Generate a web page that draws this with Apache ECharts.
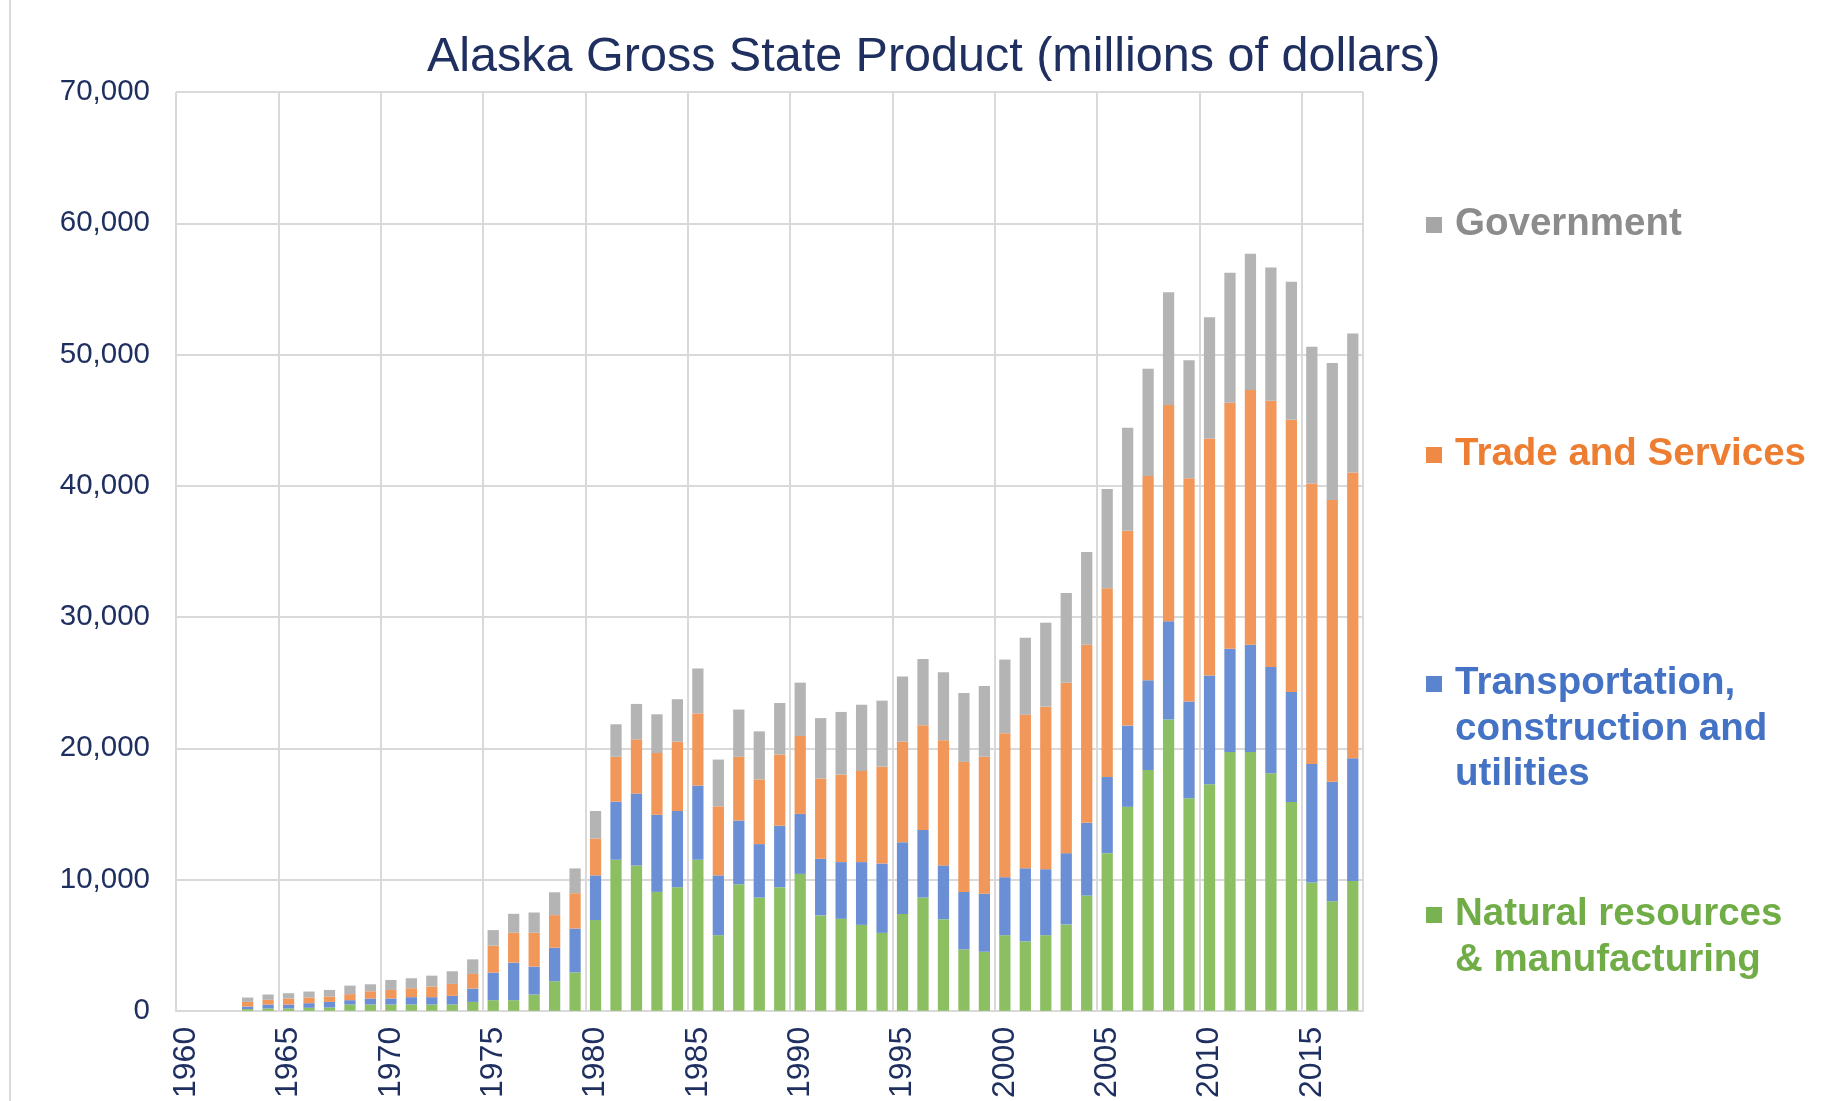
<!DOCTYPE html>
<html>
<head>
<meta charset="utf-8">
<title>Alaska Gross State Product</title>
<script src="https://cdn.jsdelivr.net/npm/echarts@6/dist/echarts.min.js"></script>
<style>
  html, body { margin: 0; padding: 0; background: #ffffff; }
  #chart { width: 1845px; height: 1101px; }
</style>
</head>
<body>
<div id="chart"></div>
<script>
// Years on the category axis (first three years have no data)
const years = [];
for (let y = 1960; y <= 2017; y++) years.push(String(y));

// Millions of dollars by sector, 1960-2017
const naturalResources = [null, null, null,
  130, 180, 180, 230, 250, 480, 480, 480, 480, 480, 480, 680, 810, 810, 1240, 2250, 2930,
  6910, 11510, 11080, 9060, 9420, 11510, 5760, 9640, 8630, 9420,
  10430, 7270, 7010, 6550, 5940, 7370, 8630, 6980, 4680, 4500,
  5760, 5290, 5760, 6580, 8780, 12010, 15540, 18350, 22190, 16190,
  17270, 19710, 19710, 18090, 15900, 9780, 8350, 9890];

const transportation = [null, null, null,
  200, 300, 300, 350, 430, 330, 460, 460, 560, 560, 660, 1020, 2100, 2860, 2130, 2560, 3340,
  3410, 4430, 5470, 5870, 5800, 5650, 4560, 4860, 4070, 4680,
  4570, 4310, 4320, 4780, 5280, 5470, 5150, 4100, 4380, 4420,
  4420, 5570, 5030, 5430, 5540, 5800, 6190, 6830, 7490, 7370,
  8270, 7880, 8170, 8100, 8380, 9030, 9100, 9350];

const tradeServices = [null, null, null,
  350, 360, 460, 430, 410, 460, 550, 650, 680, 810, 910, 1110, 2050, 2280, 2580, 2480, 2690,
  2810, 3410, 4130, 4710, 5280, 5500, 5260, 4850, 4930, 5430,
  5940, 6120, 6660, 6940, 7380, 7660, 7980, 9530, 9900, 10430,
  10970, 11690, 12380, 12990, 13560, 14380, 14850, 15570, 16470, 17010,
  18060, 18740, 19420, 20280, 20750, 21370, 21470, 21770];

const government = [null, null, null,
  330, 400, 400, 460, 500, 650, 530, 760, 760, 830, 960, 1110, 1190, 1440, 1540, 1740, 1890,
  2090, 2480, 2700, 2950, 3240, 3420, 3560, 3600, 3660, 3920,
  4060, 4600, 4780, 5040, 5030, 4970, 5040, 5180, 5250, 5400,
  5610, 5870, 6400, 6830, 7080, 7560, 7840, 8170, 8600, 9000,
  9240, 9890, 10370, 10160, 10510, 10420, 10440, 10600];

// Value-axis ticks
const yTicks = [0, 10000, 20000, 30000, 40000, 50000, 60000, 70000];

const font = "'Liberation Sans', Arial, sans-serif";
const navy = '#1f3060';
const gridGray = '#d9d9d9';

const chart = echarts.init(document.getElementById('chart'), null, { renderer: 'canvas' });

function barSeries(name, data, color) {
  return {
    name: name,
    type: 'bar',
    stack: 'gsp',
    barWidth: '55%',
    data: data,
    itemStyle: { color: color },
    emphasis: { disabled: true }
  };
}

// Legend entries placed to the right of the plot
const legendItems = [
  { label: 'Government', marker: '#a6a6a6', text: '#8c8c8c', y: 225 },
  { label: 'Trade and Services', marker: '#ee8946', text: '#ed7d31', y: 455 },
  { label: 'Transportation,\nconstruction and\nutilities', marker: '#5b84cf', text: '#4472c4', y: 684 },
  { label: 'Natural resources\n& manufacturing', marker: '#78b352', text: '#70ad47', y: 915 }
];
const legendGraphics = [];
legendItems.forEach(function (it) {
  legendGraphics.push({
    type: 'rect',
    shape: { x: 1426, y: it.y - 8, width: 16, height: 16 },
    style: { fill: it.marker }
  });
  legendGraphics.push({
    type: 'text',
    x: 1455,
    y: it.y - 23,
    style: {
      text: it.label,
      font: 'bold 38.5px ' + font,
      fill: it.text,
      lineHeight: 45.5,
      verticalAlign: 'top',
      align: 'left'
    }
  });
});
// Left edge of the chart frame
legendGraphics.push({
  type: 'line',
  shape: { x1: 10, y1: 0, x2: 10, y2: 1101 },
  style: { stroke: gridGray, lineWidth: 2 }
});

chart.setOption({
  backgroundColor: '#ffffff',
  animation: false,
  title: {
    text: 'Alaska Gross State Product (millions of dollars)',
    left: 422,
    top: 28,
    textStyle: { fontFamily: font, fontSize: 48.5, fontWeight: 'normal', color: navy }
  },
  grid: { left: 176, right: 482, top: 92, bottom: 89, containLabel: false },
  xAxis: {
    type: 'category',
    data: years,
    boundaryGap: true,
    axisLine: { show: true, lineStyle: { color: gridGray, width: 2 } },
    axisTick: { show: false },
    axisLabel: {
      interval: 4,
      rotate: 90,
      margin: 16,
      fontFamily: font,
      fontSize: 32,
      color: navy
    },
    splitLine: { show: true, interval: 4, lineStyle: { color: gridGray, width: 2 } }
  },
  yAxis: {
    type: 'value',
    min: yTicks[0],
    max: yTicks[yTicks.length - 1],
    interval: yTicks[1] - yTicks[0],
    axisLine: { show: false },
    axisTick: { show: false },
    axisLabel: {
      margin: 26,
      fontFamily: font,
      fontSize: 29.5,
      color: navy,
      formatter: function (v) { return v.toLocaleString('en-US'); }
    },
    splitLine: { show: true, lineStyle: { color: gridGray, width: 2 } }
  },
  series: [
    barSeries('Natural resources & manufacturing', naturalResources, '#8cbf62'),
    barSeries('Transportation, construction and utilities', transportation, '#6a8fd4'),
    barSeries('Trade and Services', tradeServices, '#f2975a'),
    barSeries('Government', government, '#b4b4b4')
  ],
  graphic: legendGraphics
});
</script>
</body>
</html>
